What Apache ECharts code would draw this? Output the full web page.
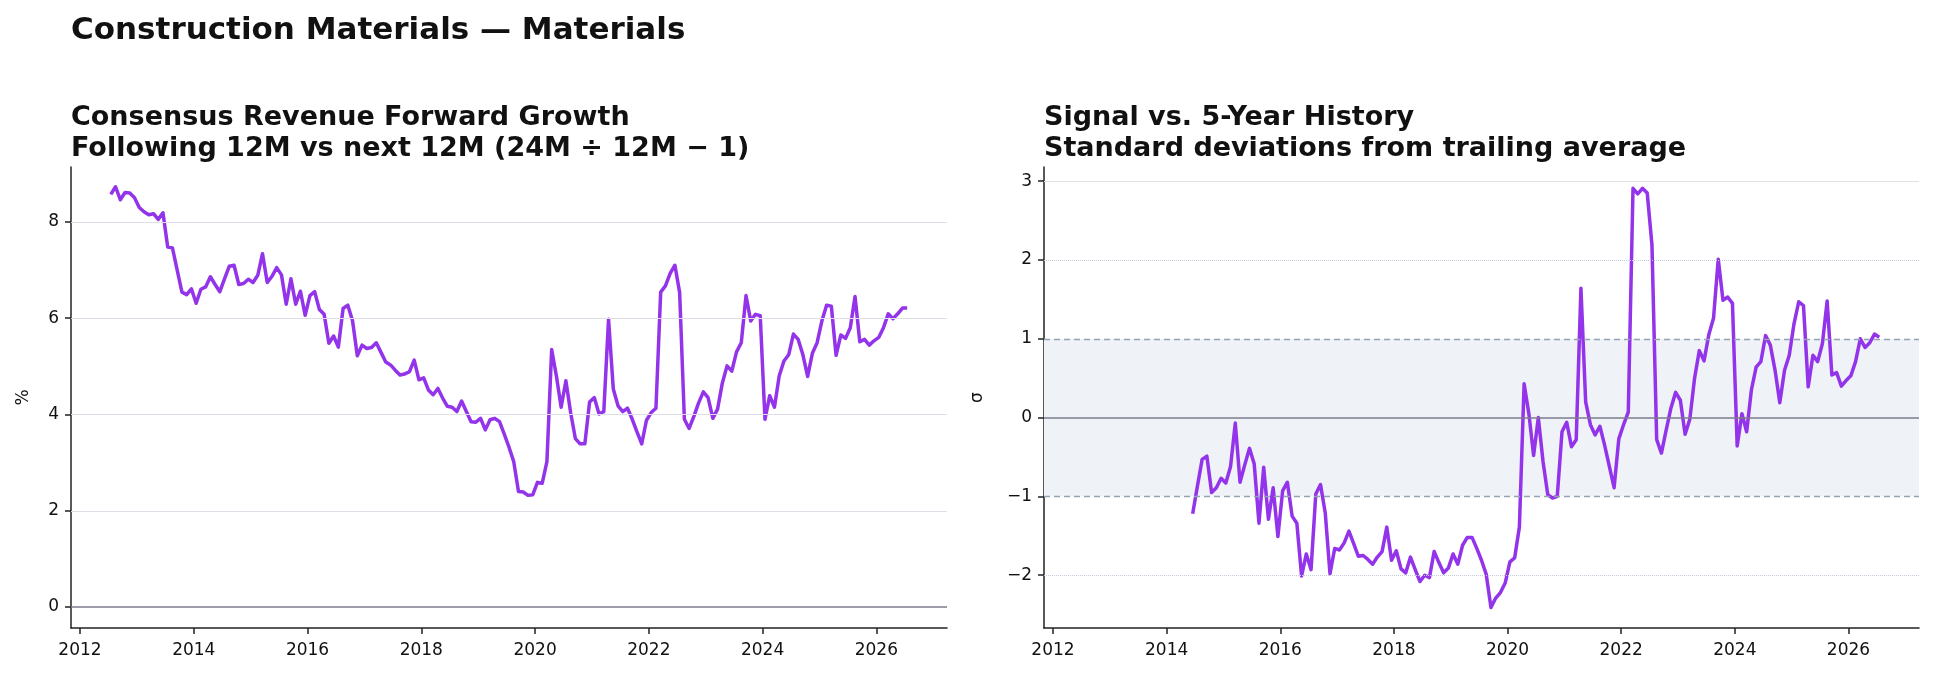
<!DOCTYPE html>
<html><head><meta charset="utf-8">
<script src="https://cdn.jsdelivr.net/npm/echarts@6/dist/echarts.min.js"></script>
<style>html,body{margin:0;padding:0;background:#fff}#c{width:1934px;height:679px}</style>
</head><body><div id="c"></div>
<script>
// ---------------- DATA ----------------
const growthStart = '2012-07';   // first month of the forward growth series
const growth = [
  8.57, 8.73, 8.46, 8.61, 8.60, 8.50, 8.30, 8.21, 8.15, 8.17, 8.05, 8.19,
  7.48, 7.46, 7.00, 6.54, 6.49, 6.61, 6.31, 6.60, 6.65, 6.86, 6.70, 6.55,
  6.82, 7.08, 7.10, 6.70, 6.72, 6.81, 6.74, 6.89, 7.34, 6.74, 6.87, 7.05,
  6.90, 6.29, 6.82, 6.29, 6.56, 6.06, 6.47, 6.55, 6.18, 6.08, 5.48, 5.63,
  5.40, 6.20, 6.27, 5.94, 5.22, 5.44, 5.37, 5.39, 5.49, 5.29, 5.09, 5.03,
  4.92, 4.82, 4.84, 4.89, 5.13, 4.72, 4.76, 4.51, 4.41, 4.54, 4.34, 4.17,
  4.15, 4.06, 4.28, 4.06, 3.85, 3.84, 3.92, 3.68, 3.89, 3.92, 3.85, 3.59,
  3.32, 3.02, 2.40, 2.39, 2.32, 2.33, 2.59, 2.57, 3.02, 5.35, 4.80, 4.15,
  4.70, 4.04, 3.50, 3.39, 3.39, 4.26, 4.35, 4.01, 4.06, 5.98, 4.53, 4.18,
  4.06, 4.13, 3.90, 3.64, 3.39, 3.88, 4.04, 4.13, 6.54, 6.67, 6.93, 7.10,
  6.53, 3.90, 3.71, 3.96, 4.24, 4.47, 4.35, 3.92, 4.11, 4.65, 5.01, 4.90,
  5.30, 5.49, 6.47, 5.94, 6.08, 6.05, 3.90, 4.39, 4.15, 4.80, 5.11, 5.24,
  5.67, 5.56, 5.24, 4.79, 5.27, 5.49, 5.94, 6.27, 6.25, 5.23, 5.65, 5.58,
  5.80, 6.45, 5.51, 5.56, 5.44, 5.53, 5.60, 5.80, 6.09, 5.99, 6.09, 6.21,
  6.21
];
const sigmaStart = '2014-06';    // first month of the z-score series
const sigma = [
  -1.22, -0.87, -0.53, -0.49, -0.95, -0.89, -0.77, -0.83, -0.62, -0.07, -0.82, -0.60,
  -0.39, -0.59, -1.34, -0.63, -1.29, -0.89, -1.51, -0.93, -0.82, -1.25, -1.34, -2.01,
  -1.73, -1.93, -0.97, -0.85, -1.21, -1.98, -1.66, -1.68, -1.59, -1.44, -1.60, -1.76,
  -1.75, -1.80, -1.86, -1.77, -1.70, -1.39, -1.81, -1.69, -1.92, -1.97, -1.77, -1.93,
  -2.08, -2.00, -2.03, -1.70, -1.84, -1.97, -1.91, -1.73, -1.86, -1.62, -1.52, -1.52,
  -1.66, -1.81, -1.99, -2.41, -2.29, -2.22, -2.10, -1.83, -1.78, -1.39, 0.43, 0.05,
  -0.48, 0.00, -0.56, -0.98, -1.02, -1.00, -0.18, -0.06, -0.37, -0.28, 1.64, 0.20,
  -0.09, -0.22, -0.11, -0.35, -0.62, -0.89, -0.27, -0.09, 0.07, 2.91, 2.84, 2.91,
  2.85, 2.19, -0.28, -0.45, -0.16, 0.12, 0.32, 0.22, -0.21, -0.02, 0.50, 0.85,
  0.72, 1.05, 1.26, 2.01, 1.49, 1.53, 1.45, -0.36, 0.05, -0.18, 0.35, 0.64,
  0.71, 1.04, 0.92, 0.60, 0.19, 0.60, 0.79, 1.19, 1.47, 1.42, 0.39, 0.79,
  0.71, 0.94, 1.48, 0.54, 0.57, 0.40, 0.47, 0.53, 0.71, 1.00, 0.89, 0.95,
  1.06, 1.02
];
const yearTicks = [2012, 2014, 2016, 2018, 2020, 2022, 2024, 2026];
const growthTicks = [0, 2, 4, 6, 8];
const sigmaTicks = [-2, -1, 0, 1, 2, 3];

const mainTitle = 'Construction Materials — Materials';
const leftTitle = 'Consensus Revenue Forward Growth\nFollowing 12M vs next 12M (24M ÷ 12M − 1)';
const rightTitle = 'Signal vs. 5-Year History\nStandard deviations from trailing average';

// ---------------- HELPERS ----------------
function monthPos(start, k) {           // mid-month position as decimal year
  const [y, m] = start.split('-').map(Number);
  const idx = (m - 1) + k;
  return y + Math.floor(idx / 12) + ((idx % 12) + 0.5) / 12;
}
const growthPts = growth.map((v, k) => [monthPos(growthStart, k), v]);
const sigmaPts = sigma.map((v, k) => [monthPos(sigmaStart, k), v]);
const x0 = growthPts[0][0], x1 = growthPts[growthPts.length - 1][0];
const xMin = x0 - 0.05 * (x1 - x0), xMax = x1 + 0.05 * (x1 - x0);

const FONT = 'DejaVu Sans';
const minus = v => (v < 0 ? '\u2212' + Math.abs(v) : String(v));
const AX = '#222222';

function xAxisCfg(gi) {
  return {
    type: 'value', gridIndex: gi, min: xMin, max: xMax,
    axisLine: { show: true, onZero: false, lineStyle: { color: AX, width: 1.5 } },
    axisTick: { show: true, length: 6, lineStyle: { color: AX, width: 1.5 }, customValues: yearTicks },
    axisLabel: { customValues: yearTicks, formatter: v => String(v), color: '#111', fontSize: 17, fontFamily: FONT, margin: 14 },
    splitLine: { show: false }
  };
}
function yAxisCfg(gi, min, max, ticks, name, gap) {
  return {
    type: 'value', gridIndex: gi, min: min, max: max,
    name: name, nameLocation: 'middle', nameGap: gap, nameRotate: 90,
    nameTextStyle: { color: '#111', fontSize: 17, fontFamily: FONT },
    axisLine: { show: true, onZero: false, lineStyle: { color: AX, width: 1.5 } },
    axisTick: { show: true, length: 6, lineStyle: { color: AX, width: 1.5 }, customValues: ticks },
    axisLabel: { customValues: ticks, formatter: minus, color: '#111', fontSize: 17, fontFamily: FONT, margin: 12 },
    splitLine: { show: false }
  };
}
const hl = (v, color, width, type) => ({ yAxis: v, lineStyle: { color: color, width: width, type: type } });

const chart = echarts.init(document.getElementById('c'), null, { renderer: 'canvas' });
chart.setOption({
  animation: false,
  backgroundColor: '#fff',
  title: [
    { text: mainTitle, left: 71, top: 15, padding: 0,
      textStyle: { fontSize: 31, fontWeight: 'bold', fontFamily: FONT, color: '#111' } },
    { text: leftTitle, left: 71, top: 102, padding: 0,
      textStyle: { fontSize: 27, lineHeight: 31, fontWeight: 'bold', fontFamily: FONT, color: '#111' } },
    { text: rightTitle, left: 1044, top: 102, padding: 0,
      textStyle: { fontSize: 27, lineHeight: 31, fontWeight: 'bold', fontFamily: FONT, color: '#111' } }
  ],
  grid: [
    { left: 71, top: 167, width: 876, height: 461 },
    { left: 1044, top: 167, width: 875, height: 461 }
  ],
  xAxis: [xAxisCfg(0), xAxisCfg(1)],
  yAxis: [
    yAxisCfg(0, -0.435, 9.14, growthTicks, '%', 39),
    yAxisCfg(1, -2.67, 3.18, sigmaTicks, 'σ', 58)
  ],
  series: [
    { type: 'line', xAxisIndex: 0, yAxisIndex: 0, data: [], z: 1, silent: true,
      markLine: { silent: true, symbol: ['none', 'none'], label: { show: false }, animation: false,
        data: [hl(2, '#dedee6', 1, 'solid'), hl(4, '#dedee6', 1, 'solid'), hl(6, '#dedee6', 1, 'solid'),
               hl(8, '#dedee6', 1, 'solid'), hl(0, '#7d7d8c', 1.6, 'solid')] } },
    { type: 'line', xAxisIndex: 0, yAxisIndex: 0, data: growthPts, z: 3, showSymbol: false,
      lineStyle: { color: '#9333ea', width: 3.5, join: 'round', cap: 'butt' } },
    { type: 'line', xAxisIndex: 1, yAxisIndex: 1, data: [], z: 1, silent: true,
      markArea: { silent: true, itemStyle: { color: '#eff3f8' }, data: [[{ yAxis: -1 }, { yAxis: 1 }]] },
      markLine: { silent: true, symbol: ['none', 'none'], label: { show: false }, animation: false,
        data: [hl(3, '#dfdfe6', 1, 'solid'), hl(2, '#c3cddb', 1, 'dotted'), hl(-2, '#c3cddb', 1, 'dotted'),
               hl(1, '#95a2b2', 1.3, [6, 4]), hl(-1, '#95a2b2', 1.3, [6, 4]), hl(0, '#7d7d8c', 1.6, 'solid')] } },
    { type: 'line', xAxisIndex: 1, yAxisIndex: 1, data: sigmaPts, z: 3, showSymbol: false,
      lineStyle: { color: '#9333ea', width: 3.5, join: 'round', cap: 'butt' } }
  ]
});
</script></body></html>
